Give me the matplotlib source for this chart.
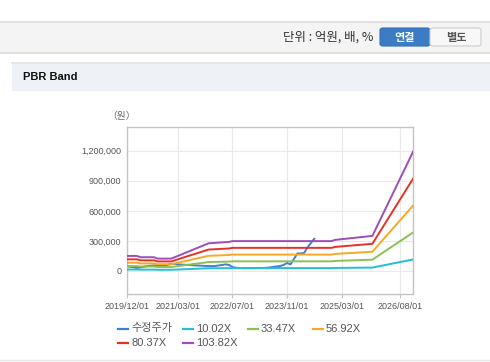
import matplotlib
matplotlib.use('Agg')
import matplotlib.pyplot as plt
import matplotlib.dates as mdates
import matplotlib.ticker as ticker
from matplotlib.patches import Rectangle, FancyBboxPatch
from matplotlib.lines import Line2D
import numpy as np
import pandas as pd

plt.rcParams['font.family'] = ['Liberation Sans', 'Noto Sans CJK KR', 'DejaVu Sans']

# ---- data ----
price_start = '2019-12-01'
price = [45000,
         42000, 38000, 30000, 36000, 42000, 48000, 52000, 55000, 52000, 50000, 56000, 62000,
         70000, 72000, 66000, 64000, 62000, 60000, 58000, 56000, 54000, 52000, 50000, 50000,
         48000, 50000, 55000, 60000, 66000, 60000, 40000, 32000, 30000, 28000, 28000, 28000,
         28000, 28000, 30000, 30000, 32000, 35000, 40000, 45000, 50000, 60000, 80000, 65000,
         120000, 175000, 175000, 180000, 235000, 280000, 322000]

bps_dates = ['2019-12-01', '2020-03-01', '2020-04-01', '2020-08-01', '2020-09-01',
             '2021-01-01', '2021-12-01', '2022-06-01', '2022-07-01', '2024-12-01',
             '2025-01-01', '2025-12-01', '2026-12-01']
bps = [1445, 1445, 1320, 1320, 1185, 1185, 2658, 2793, 2870, 2870, 2986, 3371, 11510]

multiples = [10.02, 33.47, 56.92, 80.37, 103.82]
band_labels = ['10.02X', '33.47X', '56.92X', '80.37X', '103.82X']
price_label = '수정주가'

y_ticks = [0, 300000, 600000, 900000, 1200000]
x_ticks = ['2019-12-01', '2021-03-01', '2022-07-01', '2023-11-01', '2025-03-01', '2026-08-01']

# ---- style ----
W, H = 490, 362
price_color = '#3f7fd4'
band_colors = ['#27bdd6', '#8cc152', '#f9a825', '#e53227', '#9b4fb5']

fig = plt.figure(figsize=(W / 100, H / 100), dpi=100)
fig.patch.set_facecolor('white')


def fx(px):
    return px / W


def fy(py):
    return 1 - py / H


# top toolbar
fig.add_artist(Rectangle((0, fy(52)), 1, fy(22) - fy(52), transform=fig.transFigure,
                         facecolor='#f4f4f4', edgecolor='none'))
fig.add_artist(Line2D([0, 1], [fy(21.5)] * 2, transform=fig.transFigure, color='#dedede', lw=1.2))
fig.add_artist(Line2D([0, 1], [fy(52.5)] * 2, transform=fig.transFigure, color='#e0e0e0', lw=1.5))
fig.text(fx(373), fy(37.5), '단위 : 억원, 배, %', ha='right', va='center', fontsize=9,
         color='#333333', family=['Noto Sans CJK KR', 'DejaVu Sans'])
fig.add_artist(FancyBboxPatch((fx(380), fy(46)), fx(50), fy(28) - fy(46),
                              boxstyle='round,pad=0,rounding_size=0.006', transform=fig.transFigure,
                              facecolor='#3b7cc4', edgecolor='#3370b5', lw=0.8))
fig.add_artist(FancyBboxPatch((fx(430), fy(46)), fx(51), fy(28) - fy(46),
                              boxstyle='round,pad=0,rounding_size=0.006', transform=fig.transFigure,
                              facecolor='#f8f8f8', edgecolor='#cccccc', lw=0.8))
fig.text(fx(405), fy(37.5), '연결', ha='center', va='center', fontsize=8, color='white',
         fontweight='bold', family=['Noto Sans CJK KR'])
fig.text(fx(456), fy(37.5), '별도', ha='center', va='center', fontsize=8, color='#555555',
         fontweight='bold', family=['Noto Sans CJK KR'])

# section header
fig.add_artist(Rectangle((fx(12), fy(91)), 1 - fx(12), fy(62) - fy(91), transform=fig.transFigure,
                         facecolor='#eef1f6', edgecolor='none'))
fig.add_artist(Line2D([fx(12), 1], [fy(62.5)] * 2, transform=fig.transFigure, color='#e1e5eb', lw=1.2))
fig.text(fx(23), fy(77.5), 'PBR Band', ha='left', va='center', fontsize=8, fontweight='bold',
         color='#111111')
fig.add_artist(Line2D([0, 1], [fy(360)] * 2, transform=fig.transFigure, color='#e6e6e6', lw=1))

# chart
ax = fig.add_axes([fx(126.7), fy(294), fx(413.3) - fx(126.7), fy(126.7) - fy(294)])
price_dates = pd.date_range(price_start, periods=len(price), freq='MS')
band_dates = pd.to_datetime(bps_dates)
bps_arr = np.array(bps, dtype=float)

ax.plot(price_dates, price, color=price_color, lw=1.4, zorder=2)
for m, c in zip(multiples, band_colors):
    ax.plot(band_dates, bps_arr * m, color=c, lw=1.4, zorder=3)

ax.set_xlim(pd.Timestamp('2019-12-01'), pd.Timestamp('2026-12-01'))
ax.set_ylim(-230000, 1440000)
ax.set_yticks(y_ticks)
ax.yaxis.set_major_formatter(ticker.FuncFormatter(lambda v, p: f'{int(v):,}'))
ax.set_xticks(pd.to_datetime(x_ticks))
ax.xaxis.set_major_formatter(mdates.DateFormatter('%Y/%m/%d'))
ax.grid(True, color='#e9e9e9', lw=0.8, zorder=0)
ax.set_axisbelow(True)
for s in ax.spines.values():
    s.set_color('#c4c4c4')
    s.set_linewidth(1)
ax.tick_params(axis='x', length=3, width=0.8, color='#c4c4c4', pad=2.5, labelsize=6.5,
               labelcolor='#555555')
ax.tick_params(axis='y', length=0, pad=4, labelsize=6.5, labelcolor='#555555')
fig.text(fx(121.5), fy(116.5), '（원）', ha='center', va='center', fontsize=7, color='#666666',
         family=['Noto Sans CJK KR'])

# legend
entries = [(price_label, price_color)] + list(zip(band_labels, band_colors))
for i, (lab, col) in enumerate(entries):
    r, k = divmod(i, 4)
    x0 = 118 + 65 * k
    yy = 328.5 + 14 * r
    fig.add_artist(Line2D([fx(x0), fx(x0 + 10)], [fy(yy)] * 2, transform=fig.transFigure,
                          color=col, lw=1.6))
    fig.text(fx(x0 + 13), fy(yy), lab, ha='left', va='center', fontsize=8, color='#555555')

fig.savefig('out.png', dpi=100)
